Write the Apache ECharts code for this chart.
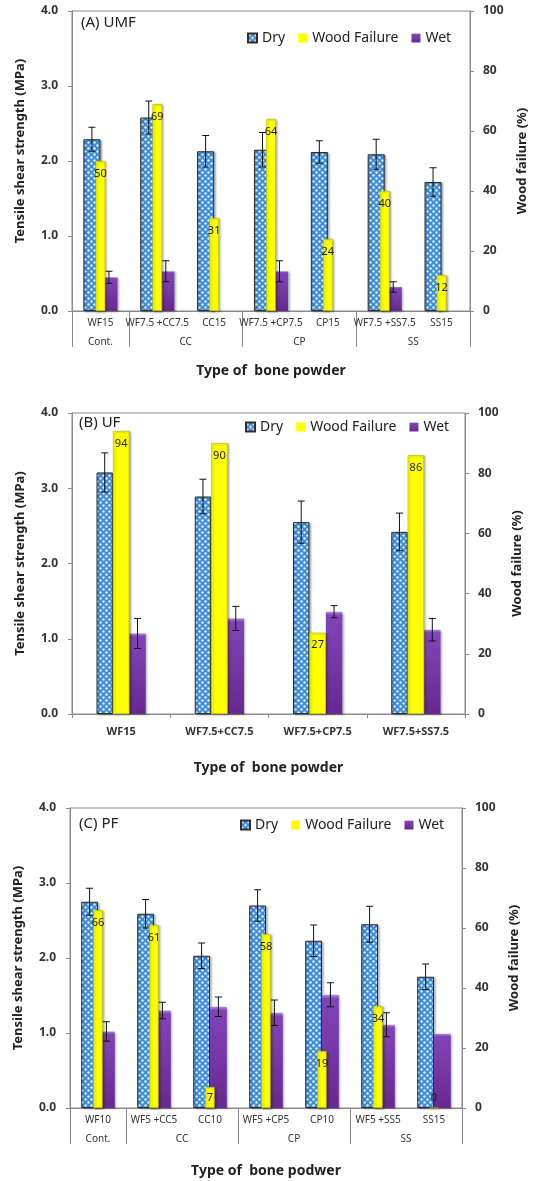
<!DOCTYPE html>
<html>
<head>
<meta charset="utf-8">
<script src="https://cdn.jsdelivr.net/npm/echarts@6.0.0/dist/echarts.min.js"></script>
<style>
  html, body { margin: 0; padding: 0; background: #fff; }
  #chart { width: 539px; height: 1181px; }
</style>
</head>
<body>
<div id="chart"></div>
<script>
// ---- (A) UMF ----
const umfCategories = ['WF15', 'WF7.5 +CC7.5', 'CC15', 'WF7.5 +CP7.5', 'CP15', 'WF7.5 +SS7.5', 'SS15'];
const umfGroups = ['Cont.', 'CC', 'CP', 'SS'];
const umfGroupSizes = [1, 2, 2, 2];
const umfDry = [2.29, 2.58, 2.13, 2.15, 2.12, 2.09, 1.72];
const umfDryErr = [0.16, 0.22, 0.21, 0.23, 0.15, 0.20, 0.19];
const umfWood = [50, 69, 31, 64, 24, 40, 12];
const umfWet = [0.45, 0.53, null, 0.53, null, 0.32, null];
const umfWetErr = [0.08, 0.14, null, 0.14, null, 0.07, null];

// ---- (B) UF ----
const ufCategories = ['WF15', 'WF7.5+CC7.5', 'WF7.5+CP7.5', 'WF7.5+SS7.5'];
const ufDry = [3.21, 2.89, 2.55, 2.42];
const ufDryErr = [0.26, 0.23, 0.28, 0.25];
const ufWood = [94, 90, 27, 86];
const ufWet = [1.07, 1.27, 1.36, 1.12];
const ufWetErr = [0.20, 0.16, 0.08, 0.15];

// ---- (C) PF ----
const pfCategories = ['WF10', 'WF5 +CC5', 'CC10', 'WF5 +CP5', 'CP10', 'WF5 +SS5', 'SS15'];
const pfGroups = ['Cont.', 'CC', 'CP', 'SS'];
const pfGroupSizes = [1, 2, 2, 2];
const pfDry = [2.75, 2.59, 2.03, 2.70, 2.23, 2.45, 1.75];
const pfDryErr = [0.18, 0.19, 0.17, 0.21, 0.21, 0.24, 0.17];
const pfWood = [66, 61, 7, 58, 19, 34, 0];
const pfWet = [1.02, 1.30, 1.35, 1.27, 1.51, 1.11, 0.99];
const pfWetErr = [0.13, 0.11, 0.13, 0.17, 0.16, 0.16, null];

// Axis ticks
const strengthTicks = { min: 0, max: 4, interval: 1 };
const failureTicks = { min: 0, max: 100, interval: 20 };

const FONT = "'Noto Sans', 'DejaVu Sans', sans-serif";

// Blue dotted fill for the dry bars
function dotPattern() {
  const c = document.createElement('canvas');
  c.width = 6; c.height = 6;
  const g = c.getContext('2d');
  g.fillStyle = '#3d8dd8';
  g.fillRect(0, 0, 6, 6);
  g.fillStyle = '#e6f3ff';
  g.beginPath(); g.arc(1.5, 1.5, 1.2, 0, Math.PI * 2); g.fill();
  g.beginPath(); g.arc(4.5, 4.5, 1.2, 0, Math.PI * 2); g.fill();
  return c;
}
const dryFill = { image: dotPattern(), repeat: 'repeat' };
const wetFill = new echarts.graphic.LinearGradient(0, 0, 0, 1, [
  { offset: 0, color: '#b08ddc' },
  { offset: 0.035, color: '#8044b8' },
  { offset: 1, color: '#67298f' }
]);

const option = {
  animation: false,
  backgroundColor: '#fff',
  textStyle: { fontFamily: FONT },
  title: [], legend: [], grid: [], xAxis: [], yAxis: [], series: []
};

function addPanel(p) {
  const g = option.grid.length;
  option.grid.push({
    left: p.left, width: p.width, top: p.top, height: p.height,
    show: true, borderColor: '#8a8a8a', borderWidth: 1, backgroundColor: 'transparent'
  });
  option.title.push({
    text: p.title, left: p.titleLeft, top: p.titleTop, padding: 0,
    textStyle: { fontFamily: FONT, fontSize: 15, fontWeight: 'normal', color: '#222' }
  });
  option.legend.push({
    data: [
      { name: 'Dry', itemStyle: { shadowBlur: 0, shadowOffsetX: 0, shadowOffsetY: 0 } },
      { name: 'Wood Failure', itemStyle: { borderWidth: 0, shadowBlur: 0, shadowOffsetX: 0, shadowOffsetY: 0 } },
      { name: 'Wet', itemStyle: { shadowBlur: 0, shadowOffsetX: 0, shadowOffsetY: 0 } }
    ],
    left: p.legendLeft, top: p.legendTop, padding: 0,
    icon: 'rect', itemWidth: 9, itemHeight: 9, itemGap: 13,
    textStyle: { fontFamily: FONT, fontSize: 14, color: '#222' }
  });

  // Visible category axis
  const xMain = option.xAxis.length;
  option.xAxis.push({
    type: 'category', gridIndex: g, position: 'bottom', data: p.categories,
    axisLine: { lineStyle: { color: '#8a8a8a' } },
    axisTick: p.groups ? { show: false } : { show: true, length: 4, lineStyle: { color: '#8a8a8a' } },
    axisLabel: {
      interval: 0, margin: p.labelMargin, fontSize: p.labelSize,
      fontWeight: p.labelBold ? 'bold' : 'normal', color: '#333', fontFamily: FONT
    },
    name: p.xName, nameLocation: 'middle', nameGap: p.xNameGap,
    nameTextStyle: { fontSize: 14, fontWeight: 'bold', color: '#222', fontFamily: FONT }
  });
  // Hidden category axis carrying the wood-failure bars
  const xWood = option.xAxis.length;
  option.xAxis.push({ type: 'category', gridIndex: g, position: 'bottom', data: p.categories, show: false });
  // Group level of the category axis
  if (p.groups) {
    const bounds = [0];
    const centers = [];
    p.groupSizes.forEach((s) => {
      const start = bounds[bounds.length - 1];
      centers.push(start + s / 2);
      bounds.push(start + s);
    });
    option.xAxis.push({
      type: 'value', gridIndex: g, position: 'bottom', min: 0, max: p.categories.length,
      axisLine: { show: false }, splitLine: { show: false },
      axisTick: { show: true, customValues: bounds, length: 36, lineStyle: { color: '#8a8a8a' } },
      axisLabel: {
        show: true, customValues: centers, margin: 26, fontSize: 10, color: '#333', fontFamily: FONT,
        formatter: (v) => p.groups[centers.indexOf(v)] ?? ''
      }
    });
  }

  const yLeft = option.yAxis.length;
  option.yAxis.push({
    type: 'value', gridIndex: g, position: 'left', ...strengthTicks,
    axisLine: { show: true, lineStyle: { color: '#8a8a8a' } },
    axisTick: { show: true, length: 4, lineStyle: { color: '#8a8a8a' } },
    splitLine: { show: false },
    axisLabel: { formatter: (v) => v.toFixed(1), margin: 14, fontSize: 12, fontWeight: 'bold', color: '#333', fontFamily: FONT },
    name: 'Tensile shear strength (MPa)', nameLocation: 'middle', nameGap: 45, nameRotate: 90,
    nameTextStyle: { fontSize: 13, fontWeight: 'bold', color: '#222', fontFamily: FONT, padding: p.yNamePad || 0 }
  });
  const yRight = option.yAxis.length;
  option.yAxis.push({
    type: 'value', gridIndex: g, position: 'right', ...failureTicks,
    axisLine: { show: true, lineStyle: { color: '#8a8a8a' } },
    axisTick: { show: true, length: 4, lineStyle: { color: '#8a8a8a' } },
    splitLine: { show: false },
    axisLabel: { margin: 13, fontSize: 12, fontWeight: 'bold', color: '#333', fontFamily: FONT },
    name: 'Wood failure (%)', nameLocation: 'middle', nameGap: 46, nameRotate: 90,
    nameTextStyle: { fontSize: 13, fontWeight: 'bold', color: '#222', fontFamily: FONT }
  });

  const shadow = { shadowColor: 'rgba(0,0,0,0.3)', shadowBlur: 2, shadowOffsetX: 1.5, shadowOffsetY: 1 };

  option.series.push({
    type: 'bar', name: 'Dry', xAxisIndex: xMain, yAxisIndex: yLeft, data: p.dry,
    barWidth: p.barWidth, barGap: p.barGap, z: 2,
    itemStyle: { color: dryFill, borderColor: '#2e2e2e', borderWidth: 1, ...shadow }
  });
  option.series.push({
    type: 'bar', name: 'Wet', xAxisIndex: xMain, yAxisIndex: yLeft, data: p.wet,
    barWidth: p.barWidth, barGap: p.barGap, z: 2,
    itemStyle: { color: wetFill, ...shadow }
  });
  option.series.push({
    type: 'bar', name: 'Wood Failure', xAxisIndex: xWood, yAxisIndex: yRight,
    data: p.wood.map((v) => (v < 10 ? { value: v, label: { position: 'insideBottom', distance: 5 } } : v)),
    barWidth: p.woodWidth, z: 3,
    itemStyle: { color: '#ffff00', borderColor: '#b8b800', borderWidth: 0.6, ...shadow },
    label: { show: true, position: 'insideTop', distance: 7, fontSize: 11, color: '#1a1a1a', fontFamily: FONT, formatter: '{c}' }
  });

  // Error bars on the dry (left) and wet (right) bars
  const errData = [];
  p.dry.forEach((v, i) => { if (v != null && p.dryErr[i] != null) errData.push([i, v, p.dryErr[i], -1]); });
  p.wet.forEach((v, i) => { if (v != null && p.wetErr[i] != null) errData.push([i, v, p.wetErr[i], 1]); });
  option.series.push({
    type: 'custom', name: 'error', xAxisIndex: xMain, yAxisIndex: yLeft, z: 4,
    encode: { x: 0, y: 1 }, data: errData,
    renderItem: (params, api) => {
      const i = api.value(0), v = api.value(1), e = api.value(2), side = api.value(3);
      const band = api.size([1, 0])[0];
      const x = api.coord([i, v])[0] + side * p.errOffset * band;
      const yTop = api.coord([i, v + e])[1];
      const yBot = api.coord([i, v - e])[1];
      const cap = 3.5;
      const st = { stroke: '#111', lineWidth: 1 };
      return {
        type: 'group', children: [
          { type: 'line', shape: { x1: x, y1: yTop, x2: x, y2: yBot }, style: st },
          { type: 'line', shape: { x1: x - cap, y1: yTop, x2: x + cap, y2: yTop }, style: st },
          { type: 'line', shape: { x1: x - cap, y1: yBot, x2: x + cap, y2: yBot }, style: st }
        ]
      };
    }
  });
}

addPanel({
  title: '(A) UMF', titleLeft: 81, titleTop: 15, legendLeft: 247, legendTop: 31,
  left: 72, width: 398, top: 11, height: 300,
  categories: umfCategories, groups: umfGroups, groupSizes: umfGroupSizes,
  dry: umfDry, dryErr: umfDryErr, wood: umfWood, wet: umfWet, wetErr: umfWetErr,
  barWidth: '30%', barGap: '0%', woodWidth: '17%', errOffset: 0.15,
  labelMargin: 7, labelSize: 10, labelBold: false,
  xName: 'Type of  bone powder', xNameGap: 53, yNamePad: [0, 0, 0, 20]
});
addPanel({
  title: '(B) UF', titleLeft: 79, titleTop: 415, legendLeft: 245, legendTop: 420,
  left: 72, width: 393, top: 413, height: 301,
  categories: ufCategories,
  dry: ufDry, dryErr: ufDryErr, wood: ufWood, wet: ufWet, wetErr: ufWetErr,
  barWidth: '16.7%', barGap: '100%', woodWidth: '16.7%', errOffset: 0.167,
  labelMargin: 12, labelSize: 11, labelBold: true,
  xName: 'Type of  bone powder', xNameGap: 47
});
addPanel({
  title: '(C) PF', titleLeft: 79, titleTop: 816, legendLeft: 240, legendTop: 818,
  left: 70, width: 392, top: 808, height: 300,
  categories: pfCategories, groups: pfGroups, groupSizes: pfGroupSizes,
  dry: pfDry, dryErr: pfDryErr, wood: pfWood, wet: pfWet, wetErr: pfWetErr,
  barWidth: '30%', barGap: '0%', woodWidth: '16.5%', errOffset: 0.15,
  labelMargin: 7, labelSize: 10, labelBold: false,
  xName: 'Type of  bone podwer', xNameGap: 56
});

const chart = echarts.init(document.getElementById('chart'), null, { renderer: 'canvas' });
chart.setOption(option);
</script>
</body>
</html>
